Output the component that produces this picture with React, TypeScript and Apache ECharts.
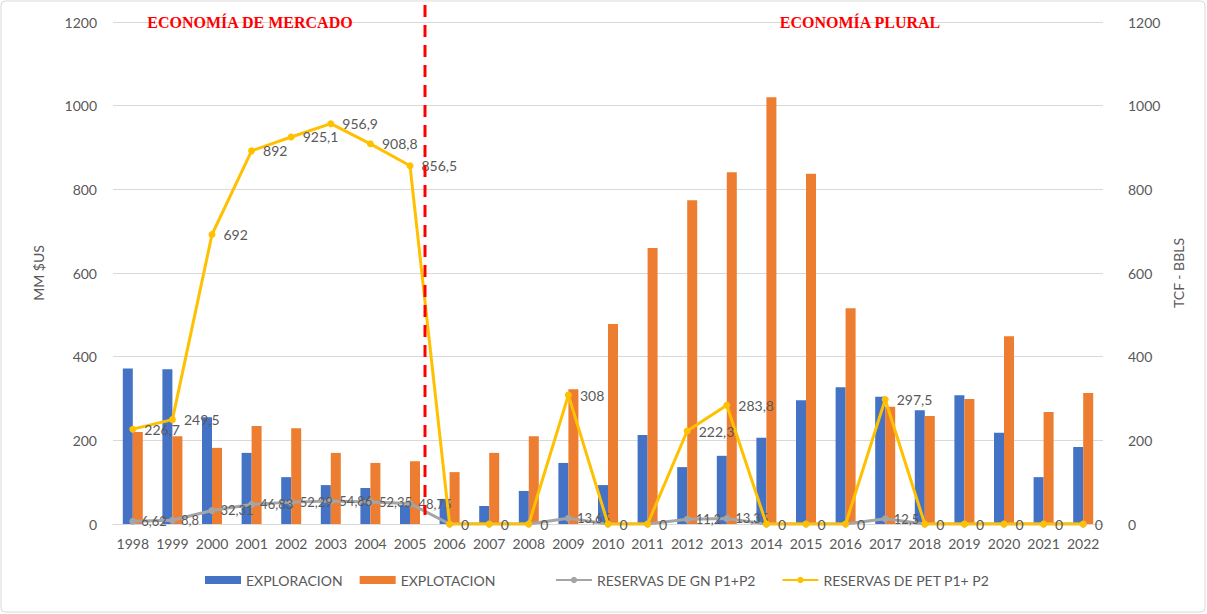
import React, { useEffect, useRef } from "react";
import * as echarts from "echarts";

const years = ["1998","1999","2000","2001","2002","2003","2004","2005","2006","2007","2008","2009","2010","2011","2012","2013","2014","2015","2016","2017","2018","2019","2020","2021","2022"];
const exploracion = [372, 370, 255, 170, 112, 93, 86, 45, 60, 43, 79, 146, 93, 213, 136, 163, 206, 296, 327, 304, 272, 308, 218, 112, 184];
const explotacion = [220, 210, 182, 234, 229, 170, 146, 150, 124, 170, 210, 322, 478, 660, 774, 841, 1020, 837, 516, 280, 258, 299, 449, 268, 313];
const reservasGN = [6.62, 8.8, 32.31, 46.83, 52.29, 54.86, 52.35, 48.75, 0, 0, 0, 13.65, 0, 0, 11.2, 13.35, 0, 0, 0, 12.5, 0, 0, 0, 0, 0];
const reservasPET = [226.7, 249.5, 692, 892, 925.1, 956.9, 908.8, 856.5, 0, 0, 0, 308, 0, 0, 222.3, 283.8, 0, 0, 0, 297.5, 0, 0, 0, 0, 0];
const axisTicks = [0, 200, 400, 600, 800, 1000, 1200];

const FONT = "Lato, 'Open Sans', sans-serif";
const TXT = "#595959";
const fmt = (v: number) => String(v).replace(".", ",");

export default function App() {
  const ref = useRef<HTMLDivElement>(null);
  useEffect(() => {
    document.body.style.margin = "0";
    const chart = echarts.init(ref.current!, null, { renderer: "svg" });
    const legendBase = {
      bottom: 22,
      itemWidth: 36,
      itemHeight: 8,
      textStyle: { color: TXT, fontSize: 14, fontFamily: FONT },
    };
    chart.setOption({
      animation: false,
      backgroundColor: "#ffffff",
      textStyle: { fontFamily: FONT },
      grid: { left: 113, right: 104, top: 22, bottom: 90, containLabel: false },
      legend: [
        {
          ...legendBase,
          left: 200,
          itemGap: 17,
          data: [
            { name: "EXPLORACION", icon: "rect" },
            { name: "EXPLOTACION", icon: "rect" },
          ],
        },
        {
          ...legendBase,
          left: 550,
          itemGap: 26,
          data: [{ name: "RESERVAS DE GN P1+P2" }, { name: "RESERVAS DE PET P1+ P2" }],
        },
      ],
      xAxis: {
        type: "category",
        data: years,
        axisTick: { show: false },
        axisLine: { show: true, lineStyle: { color: "#D9D9D9" } },
        axisLabel: { color: TXT, fontSize: 14, margin: 12, interval: 0 },
      },
      yAxis: [
        {
          type: "value",
          min: axisTicks[0],
          max: axisTicks[axisTicks.length - 1],
          interval: 200,
          name: "MM $US",
          nameLocation: "middle",
          nameGap: 68,
          nameTextStyle: { color: TXT, fontSize: 14 },
          axisLabel: { color: TXT, fontSize: 14, margin: 16, formatter: (v: number) => String(v) },
          splitLine: { lineStyle: { color: "#D9D9D9" } },
          axisLine: { show: false },
          axisTick: { show: false },
        },
        {
          type: "value",
          min: axisTicks[0],
          max: axisTicks[axisTicks.length - 1],
          interval: 200,
          name: "TCF - BBLS",
          nameLocation: "middle",
          nameGap: 68,
          nameRotate: 90,
          nameTextStyle: { color: TXT, fontSize: 14 },
          axisLabel: { color: TXT, fontSize: 14, margin: 25, formatter: (v: number) => String(v) },
          splitLine: { show: false },
          axisLine: { show: false },
          axisTick: { show: false },
        },
      ],
      series: [
        {
          name: "EXPLORACION",
          type: "bar",
          data: exploracion,
          barWidth: 10,
          barGap: "0%",
          itemStyle: { color: "#4472C4" },
        },
        {
          name: "EXPLOTACION",
          type: "bar",
          data: explotacion,
          barWidth: 10,
          itemStyle: { color: "#ED7D31" },
        },
        {
          name: "RESERVAS DE GN P1+P2",
          type: "line",
          yAxisIndex: 1,
          data: reservasGN,
          symbol: "circle",
          symbolSize: 7,
          lineStyle: { color: "#A5A5A5", width: 3 },
          itemStyle: { color: "#A5A5A5" },
          label: {
            show: true,
            position: "right",
            color: TXT,
            fontSize: 13,
            formatter: (p: any) => (p.value === 0 ? "" : fmt(p.value)),
          },
          z: 3,
        },
        {
          name: "RESERVAS DE PET P1+ P2",
          type: "line",
          yAxisIndex: 1,
          data: reservasPET,
          symbol: "circle",
          symbolSize: 7,
          lineStyle: { color: "#FFC000", width: 3 },
          itemStyle: { color: "#FFC000" },
          label: {
            show: true,
            position: "right",
            distance: 8,
            color: TXT,
            fontSize: 14,
            formatter: (p: any) => fmt(p.value),
          },
          z: 4,
        },
      ],
      graphic: [
        {
          type: "rect",
          shape: { x: 1, y: 1, width: 1204, height: 611, r: 4 },
          style: { fill: "none", stroke: "#D9D9D9", lineWidth: 1 },
          silent: true,
        },
        {
          type: "line",
          shape: { x1: 425, y1: 5, x2: 425, y2: 515 },
          style: { stroke: "#FF0000", lineWidth: 3, lineDash: [12, 8] },
          z: 10,
        },
        {
          type: "text",
          x: 250,
          y: 22,
          style: {
            text: "ECONOMÍA DE MERCADO",
            fill: "#FF0000",
            font: "bold 16px 'Liberation Serif', 'Times New Roman', serif",
            textAlign: "center",
            textVerticalAlign: "middle",
          },
          z: 10,
        },
        {
          type: "text",
          x: 860,
          y: 22,
          style: {
            text: "ECONOMÍA PLURAL",
            fill: "#FF0000",
            font: "bold 16px 'Liberation Serif', 'Times New Roman', serif",
            textAlign: "center",
            textVerticalAlign: "middle",
          },
          z: 10,
        },
      ],
    });
    return () => chart.dispose();
  }, []);
  return <div ref={ref} style={{ width: 1207, height: 614, position: "absolute", left: 0, top: 0 }} />;
}
